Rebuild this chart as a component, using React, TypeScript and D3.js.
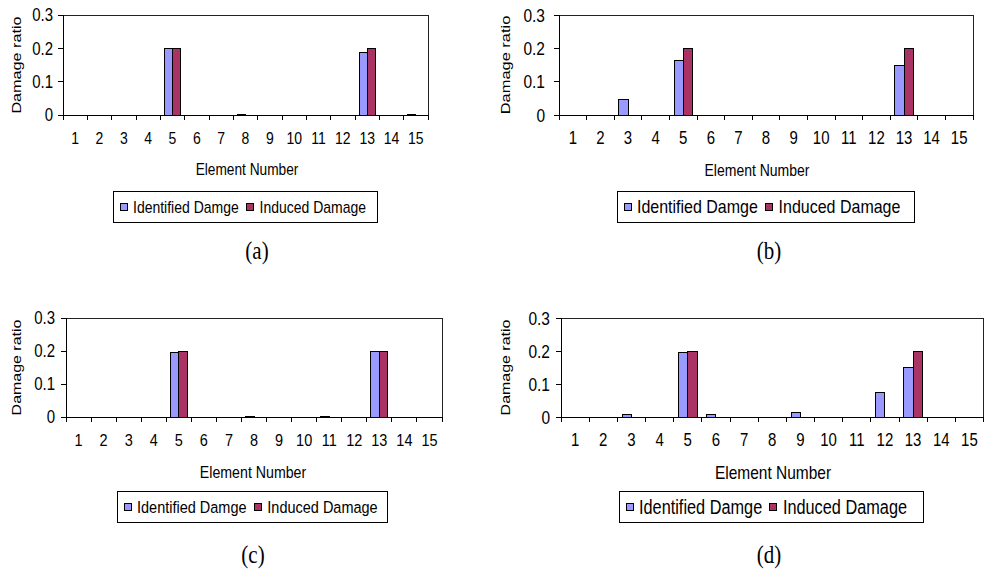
import React from "react";
import * as d3 from "d3";

// element numbers on the x axis
const elements = ["1", "2", "3", "4", "5", "6", "7", "8", "9", "10", "11", "12", "13", "14", "15"];
const seriesNames = ["Identified Damge", "Induced Damage"];
const yTicks = [0, 0.1, 0.2, 0.3];

// damage ratios
const identifiedA = [0, 0, 0, 0, 0.2, 0, 0, 0.003, 0, 0, 0, 0, 0.187, 0, 0.003];
const inducedA = [0, 0, 0, 0, 0.2, 0, 0, 0, 0, 0, 0, 0, 0.2, 0, 0];
const identifiedB = [0, 0, 0.047, 0, 0.163, 0, 0, 0, 0, 0, 0, 0, 0.15, 0, 0];
const inducedB = [0, 0, 0, 0, 0.2, 0, 0, 0, 0, 0, 0, 0, 0.2, 0, 0];
const identifiedC = [0, 0, 0, 0, 0.195, 0, 0, 0.003, 0, 0, 0.003, 0, 0.2, 0, 0];
const inducedC = [0, 0, 0, 0, 0.2, 0, 0, 0, 0, 0, 0, 0, 0.2, 0, 0];
const identifiedD = [0, 0, 0.009, 0, 0.195, 0.009, 0, 0, 0.014, 0, 0, 0.073, 0.149, 0, 0];
const inducedD = [0, 0, 0, 0, 0.2, 0, 0, 0, 0, 0, 0, 0, 0.2, 0, 0];

const captions = ["(a)", "(b)", "(c)", "(d)"];

const colors = ["#9999FF", "#AA3366"];
const SANS = "'Liberation Sans', Arial, sans-serif";
const SERIF = "'Liberation Serif', 'Times New Roman', serif";
const SY = 1.2; // the scanned figure is stretched vertically

const panels = [
  {
    data: [identifiedA, inducedA], caption: captions[0],
    x0: 63, x1: 428, top: 15, bot: 115, yTickGap: 10, yTickFs: 15, xTickFs: 14, xTickY: 138,
    yTitleX: 21, yTitleFs: 13.5, xTitle: [247, 169], xTitleFs: 13.7,
    legend: { x: 113, y: 191, w: 264, h: 31, fs: 14 }, cap: [257, 251],
  },
  {
    data: [identifiedB, inducedB], caption: captions[1],
    x0: 559, x1: 973, top: 15, bot: 115, yTickGap: 14, yTickFs: 15.5, xTickFs: 15, xTickY: 138,
    yTitleX: 510, yTitleFs: 13.7, xTitle: [757, 170], xTitleFs: 14,
    legend: { x: 617, y: 191, w: 297, h: 31, fs: 16 }, cap: [769, 251],
  },
  {
    data: [identifiedC, inducedC], caption: captions[2],
    x0: 66, x1: 442, top: 318, bot: 417, yTickGap: 11, yTickFs: 15, xTickFs: 14.5, xTickY: 440,
    yTitleX: 21, yTitleFs: 13.3, xTitle: [253, 472], xTitleFs: 14.2,
    legend: { x: 117, y: 491, w: 270, h: 31, fs: 14.5 }, cap: [253, 555],
  },
  {
    data: [identifiedD, inducedD], caption: captions[3],
    x0: 561, x1: 983.5, top: 318, bot: 417, yTickGap: 11, yTickFs: 15.5, xTickFs: 15, xTickY: 440,
    yTitleX: 510, yTitleFs: 13.3, xTitle: [773, 472], xTitleFs: 15.5,
    legend: { x: 619, y: 491, w: 304, h: 31, fs: 16.3 }, cap: [769, 555],
  },
];

// Arial em widths of the two legend labels
const labelEm = [7.539, 7.615];

const Txt = ({ x, y, fs, anchor = "middle", family = SANS, rot = false, children }: any) => (
  <text
    transform={`translate(${x},${y}) scale(1,${SY})${rot ? " rotate(-90)" : ""}`}
    fontSize={fs}
    fontFamily={family}
    textAnchor={anchor}
    fill="#000"
  >
    {children}
  </text>
);

const Panel = ({ p }: any) => {
  const x = d3.scaleBand<string>().domain(elements).range([p.x0, p.x1]).padding(0);
  const inner = d3.scaleBand<string>().domain(seriesNames).range([0, x.bandwidth()]).paddingInner(0).paddingOuter(0.5);
  const y = d3.scaleLinear().domain([0, 0.3]).range([p.bot, p.top]);

  const bars: any[] = [];
  seriesNames.forEach((s, si) => {
    p.data[si].forEach((v: number, i: number) => {
      if (v <= 0) return;
      bars.push({ s, si, v, e: elements[i] });
    });
  });

  const lg = p.legend;
  const sw = 7;
  const t1 = lg.x + 20;
  const s2 = t1 + labelEm[0] * lg.fs + 8;
  const t2 = s2 + 13;
  const midY = lg.y + lg.h / 2;

  const titleMid = (p.top + p.bot) / 2;

  return (
    <g>
      {/* plot frame */}
      <rect x={p.x0} y={p.top} width={p.x1 - p.x0} height={p.bot - p.top} fill="none" stroke="#222" strokeWidth={1} />
      {/* bars */}
      {bars.map((b, k) => (
        <rect
          key={k}
          x={(x(b.e) as number) + (inner(b.s) as number)}
          y={y(b.v)}
          width={inner.bandwidth()}
          height={y(0) - y(b.v)}
          fill={colors[b.si]}
          stroke="#000"
          strokeWidth={1}
        />
      ))}
      {/* axes */}
      <line x1={p.x0} x2={p.x0} y1={p.top} y2={p.bot} stroke="#000" />
      <line x1={p.x0} x2={p.x1} y1={p.bot} y2={p.bot} stroke="#000" />
      {yTicks.map((t) => (
        <g key={t}>
          <line x1={p.x0 - 5} x2={p.x0} y1={y(t)} y2={y(t)} stroke="#000" />
          <Txt x={p.x0 - p.yTickGap} y={y(t) + 0.36 * p.yTickFs * SY} fs={p.yTickFs} anchor="end">
            {t === 0 ? "0" : String(t)}
          </Txt>
        </g>
      ))}
      {elements.map((e, i) => (
        <line key={"tk" + e} x1={p.x0 + i * x.step()} x2={p.x0 + i * x.step()} y1={p.bot} y2={p.bot + 5} stroke="#000" />
      ))}
      <line x1={p.x1} x2={p.x1} y1={p.bot} y2={p.bot + 5} stroke="#000" />
      {elements.map((e) => (
        <Txt key={"lb" + e} x={(x(e) as number) + x.bandwidth() / 2} y={p.xTickY + 0.36 * p.xTickFs * SY} fs={p.xTickFs}>
          {e}
        </Txt>
      ))}
      {/* titles */}
      <Txt x={p.yTitleX} y={titleMid} fs={p.yTitleFs} rot>
        Damage ratio
      </Txt>
      <Txt x={p.xTitle[0]} y={p.xTitle[1] + 0.36 * p.xTitleFs * SY} fs={p.xTitleFs}>
        Element Number
      </Txt>
      {/* legend */}
      <rect x={lg.x} y={lg.y} width={lg.w} height={lg.h} fill="#fff" stroke="#000" />
      <rect x={lg.x + 7} y={midY - sw / 2} width={sw} height={sw} fill={colors[0]} stroke="#000" />
      <Txt x={t1} y={midY + 0.36 * lg.fs * SY} fs={lg.fs} anchor="start">
        {seriesNames[0]}
      </Txt>
      <rect x={s2} y={midY - sw / 2} width={sw} height={sw} fill={colors[1]} stroke="#000" />
      <Txt x={t2} y={midY + 0.36 * lg.fs * SY} fs={lg.fs} anchor="start">
        {seriesNames[1]}
      </Txt>
      {/* caption */}
      <Txt x={p.cap[0]} y={p.cap[1] + 0.3 * 21 * SY} fs={21} family={SERIF}>
        {p.caption}
      </Txt>
    </g>
  );
};

export default function App() {
  return (
    <svg
      width={984}
      height={569}
      style={{ position: "absolute", left: 0, top: 0, background: "#fff" }}
      shapeRendering="crispEdges"
    >
      <rect width={984} height={569} fill="#fff" />
      {panels.map((p, i) => (
        <Panel key={i} p={p} />
      ))}
    </svg>
  );
}
